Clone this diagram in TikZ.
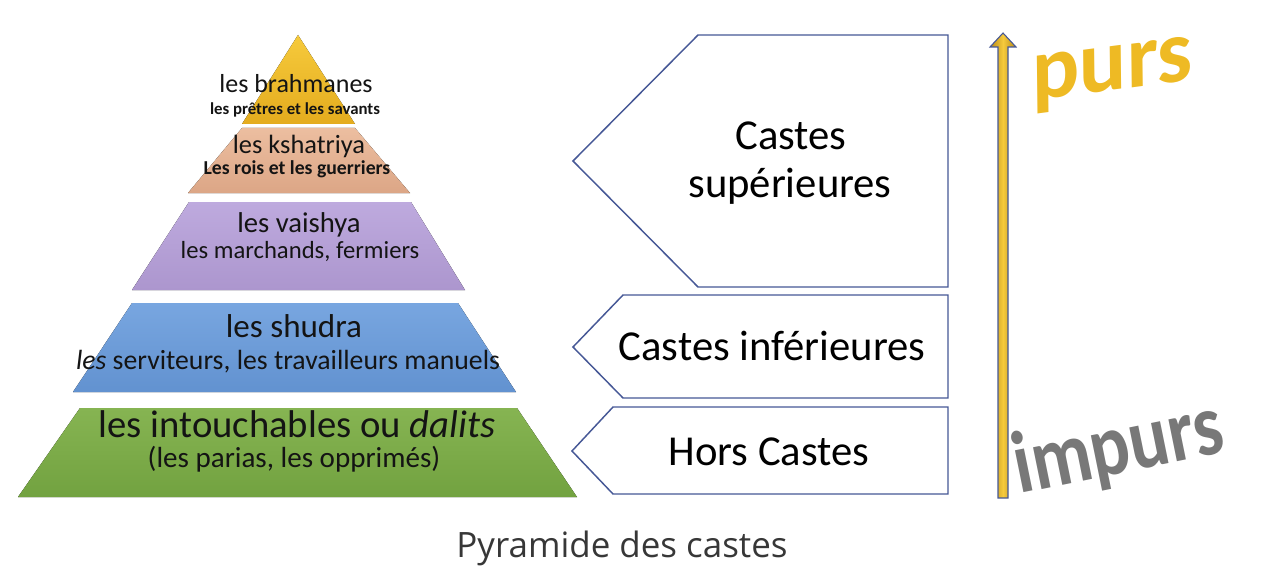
\documentclass[tikz,border=0pt]{standalone}
\usepackage{fontspec}
\setmainfont{Carlito}
\newfontfamily\capfont{Open Sans}
\newcommand\fsz[1]{\fontsize{#1}{#1}\selectfont}
\definecolor{yelA}{RGB}{246,202,60}
\definecolor{yelB}{RGB}{228,172,30}
\definecolor{peaA}{RGB}{236,190,160}
\definecolor{peaB}{RGB}{220,166,134}
\definecolor{lavA}{RGB}{190,170,222}
\definecolor{lavB}{RGB}{172,150,206}
\definecolor{bluA}{RGB}{120,166,224}
\definecolor{bluB}{RGB}{98,146,208}
\definecolor{greA}{RGB}{134,180,82}
\definecolor{greB}{RGB}{114,162,64}
\definecolor{boxblue}{RGB}{70,88,150}
\definecolor{txtblack}{RGB}{20,20,20}
\definecolor{goldtxt}{RGB}{238,186,36}
\definecolor{graytxt}{RGB}{120,120,120}
\definecolor{capgray}{RGB}{55,55,55}
\begin{document}
\begin{tikzpicture}[x=0.75pt,y=-0.75pt,
  boxshape/.style={draw=boxblue, line width=1.1pt, fill=white, line join=miter},
  pyrtxt/.style={anchor=base, inner sep=0pt, text=txtblack},
  boxtxt/.style={anchor=base, inner sep=0pt, text=black, font=\fsz{32pt}},
]
\useasboundingbox (0,0) rectangle (1280,574);

% pyramid layers
\fill[top color=yelA, bottom color=yelB] (298,35) -- (355,124) -- (242,124) -- cycle;
\fill[top color=peaA, bottom color=peaB] (242,128) -- (355,128) -- (410,193) -- (188,193) -- cycle;
\fill[top color=lavA, bottom color=lavB] (189,202) -- (411,202) -- (465,290) -- (132,290) -- cycle;
\fill[top color=bluA, bottom color=bluB] (132,303) -- (458,303) -- (516,392) -- (73,392) -- cycle;
\fill[top color=greA, bottom color=greB] (80,408) -- (517,408) -- (577,497) -- (18,497) -- cycle;

% pyramid texts
\node[pyrtxt, font=\fsz{19.5pt}] (brah) at (296,93) {les brahmanes};
\node[pyrtxt, font=\bfseries\fsz{12.6pt}] (brahd) at (295,115) {les prêtres et les savants};
\node[pyrtxt, font=\fsz{19.8pt}] (ksha) at (299,153) {les kshatriya};
\node[pyrtxt, font=\bfseries\fsz{14.8pt}] (kshad) at (297,174) {Les rois et les guerriers};
\node[pyrtxt, font=\fsz{21.5pt}] (vais) at (299,232) {les vaishya};
\node[pyrtxt, font=\fsz{18.5pt}] (vaisd) at (300,258) {les marchands, fermiers};
\node[pyrtxt, font=\fsz{24.8pt}] (shud) at (294,337) {les shudra};
\node[pyrtxt, font=\fsz{20.8pt}] (shudd) at (288,369) {\textit{les} serviteurs, les travailleurs manuels};
\node[pyrtxt, font=\fsz{29pt}] (dali) at (297,437) {les intouchables ou \textit{dalits}};
\node[pyrtxt, font=\fsz{21.8pt}] (dalid) at (294,467) {(les parias, les opprimés)};

% right boxes
\draw[boxshape] (698,35) -- (948,35) -- (948,287) -- (698,287) -- (573,161) -- cycle;
\draw[boxshape] (623,295) -- (948,295) -- (948,398) -- (623,398) -- (573,347) -- cycle;
\draw[boxshape] (613,407) -- (948,407) -- (948,494) -- (613,494) -- (572,451) -- cycle;

\node[boxtxt] (sup1) at (791,150) {Castes};
\node[boxtxt] (sup2) at (790,197) {supérieures};
\node[boxtxt] (inf) at (772,360) {Castes inférieures};
\node[boxtxt] (hors) at (769,465) {Hors Castes};

% arrow
\draw[draw=boxblue, line width=0.8pt, left color=yelB!80!black, right color=yelB!80!black, middle color=yelA, line join=miter]
  (998,498) -- (998,47) -- (990,47) -- (1003,33) -- (1016,47) -- (1008,47) -- (1008,498) -- cycle;

% purs / impurs
\node[anchor=base west, inner sep=0pt, text=goldtxt, font=\bfseries\fsz{67pt}, rotate=7.5, xslant=0.12] (purs) at (1032,101) {purs};
\node[anchor=base west, inner sep=0pt, text=graytxt, font=\bfseries\fsz{66pt}, rotate=11.5, xscale=0.84] (impurs) at (1019,494) {impurs};

% caption
\node[anchor=base, inner sep=0pt, text=capgray, font=\capfont\fsz{26.2pt}] (cap) at (622,557) {Pyramide des castes};
\end{tikzpicture}
\end{document}
